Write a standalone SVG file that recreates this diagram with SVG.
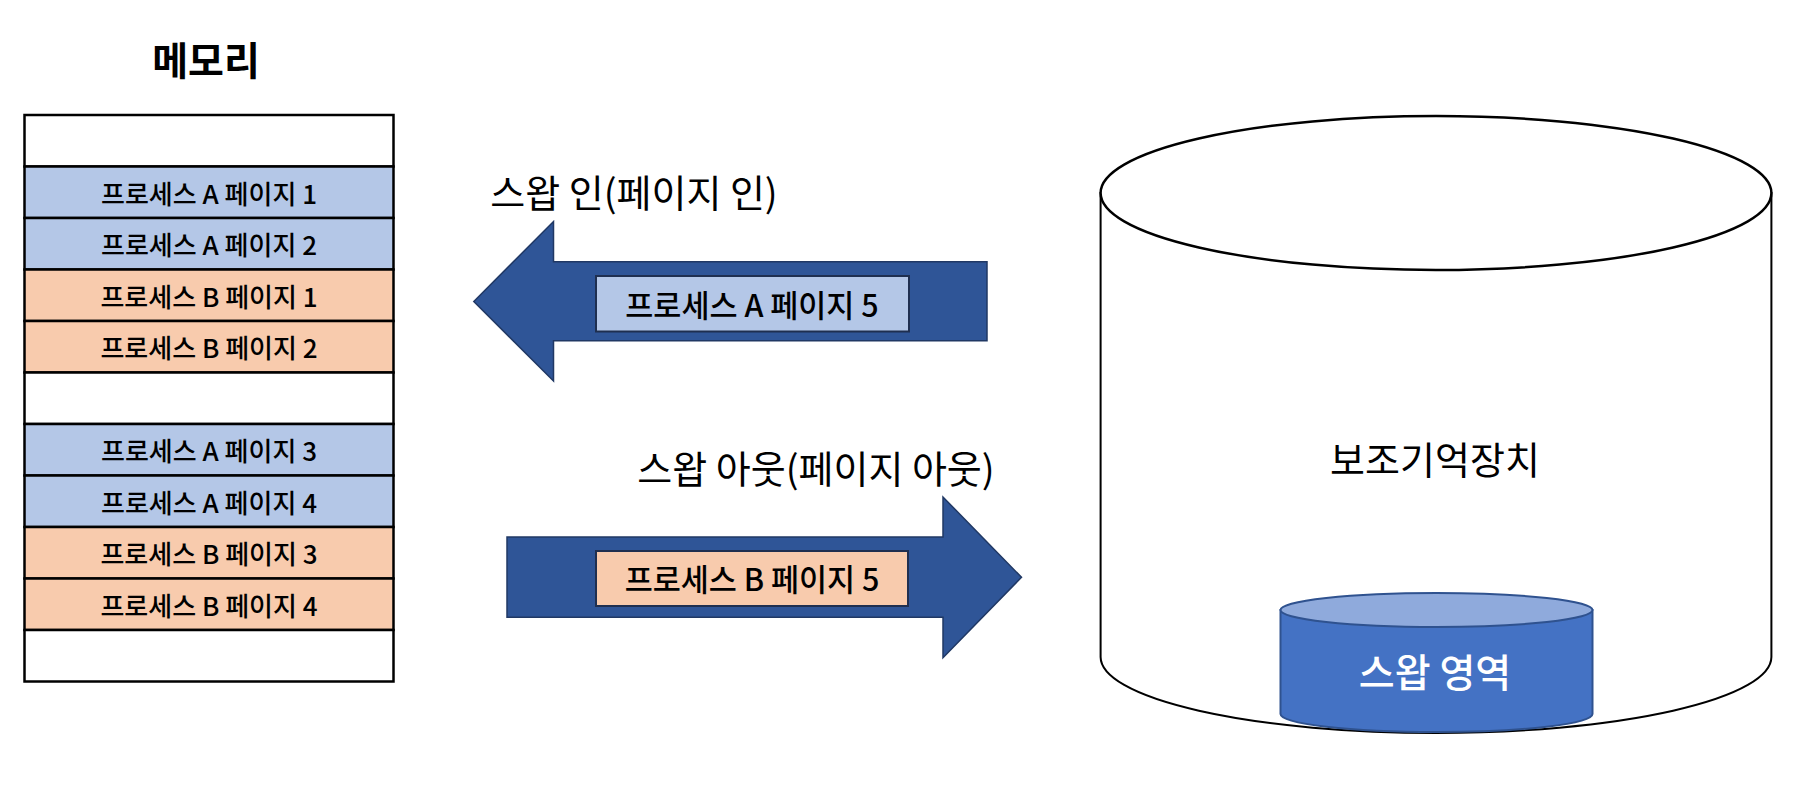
<svg xmlns="http://www.w3.org/2000/svg" width="1799" height="788" viewBox="0 0 1799 788">
<style>
text{font-family:"Noto Sans CJK KR","Noto Sans",sans-serif;text-anchor:middle;dominant-baseline:central;fill:#000;font-weight:500}
.row{stroke:#000;stroke-width:2.5}
.w{fill:#fff}
.a{fill:#B4C7E7}
.b{fill:#F8CBAD}
.rt{font-size:26px}
.title{font-size:38px;font-weight:400}
.arrow{fill:#2F5597;stroke:#203864;stroke-width:1.5}
.lbl{stroke:#1F2F50;stroke-width:2}
.lt{font-size:30.5px}
</style>
<rect width="1799" height="788" fill="#fff"/>
<g id="memory-title"><text x="206" y="58" style="font-size:39px;font-weight:bold">메모리</text></g>
<g id="memory">
<g id="mem-0"><rect class="row w" x="24.5" y="115" width="369" height="51.5"/></g>
<g id="mem-1"><rect class="row a" x="24.5" y="166.5" width="369" height="51.5"/><text class="rt" x="209" y="192">프로세스 A 페이지 1</text></g>
<g id="mem-2"><rect class="row a" x="24.5" y="218" width="369" height="51.5"/><text class="rt" x="209" y="243.5">프로세스 A 페이지 2</text></g>
<g id="mem-3"><rect class="row b" x="24.5" y="269.5" width="369" height="51.5"/><text class="rt" x="209" y="295">프로세스 B 페이지 1</text></g>
<g id="mem-4"><rect class="row b" x="24.5" y="321" width="369" height="51.5"/><text class="rt" x="209" y="346.5">프로세스 B 페이지 2</text></g>
<g id="mem-5"><rect class="row w" x="24.5" y="372.5" width="369" height="51.5"/></g>
<g id="mem-6"><rect class="row a" x="24.5" y="424" width="369" height="51.5"/><text class="rt" x="209" y="449.5">프로세스 A 페이지 3</text></g>
<g id="mem-7"><rect class="row a" x="24.5" y="475.5" width="369" height="51.5"/><text class="rt" x="209" y="501">프로세스 A 페이지 4</text></g>
<g id="mem-8"><rect class="row b" x="24.5" y="527" width="369" height="51.5"/><text class="rt" x="209" y="552.5">프로세스 B 페이지 3</text></g>
<g id="mem-9"><rect class="row b" x="24.5" y="578.5" width="369" height="51.5"/><text class="rt" x="209" y="604">프로세스 B 페이지 4</text></g>
<g id="mem-10"><rect class="row w" x="24.5" y="630" width="369" height="51.5"/></g>
</g>
<g id="connectors">
<path id="swap-in-arrow" class="arrow" d="M473.8,301.5 L553.5,221.5 L553.5,261.8 L987,261.8 L987,340.8 L553.5,340.8 L553.5,381 Z"/>
<path id="swap-out-arrow" class="arrow" d="M507,537 L943,537 L943,497 L1021.5,577.3 L943,657.7 L943,617.3 L507,617.3 Z"/>
</g>
<g id="swap-in-label"><text class="title" x="634" y="190">스왑 인(페이지 인)</text></g>
<g id="swap-out-label"><text class="title" x="816" y="466">스왑 아웃(페이지 아웃)</text></g>
<g id="page-a5"><rect class="lbl a" x="596" y="276" width="313" height="55.5"/><text class="lt" x="752" y="303.5">프로세스 A 페이지 5</text></g>
<g id="page-b5"><rect class="lbl b" x="596" y="551" width="312" height="55"/><text class="lt" x="752" y="578">프로세스 B 페이지 5</text></g>
<g id="storage">
<path d="M1100.6,193 V657 A335.4,76 0 0 0 1771.4,657 V193 Z" fill="#fff" stroke="#000" stroke-width="2"/>
<ellipse cx="1436" cy="193" rx="335.4" ry="77" fill="#fff" stroke="#000" stroke-width="2.5"/>
<text x="1435" y="457" style="font-size:38px;font-weight:400">보조기억장치</text>
</g>
<g id="swap-area">
<path d="M1280.5,610 V714 A156,18 0 0 0 1592.5,714 V610 Z" fill="#4472C4" stroke="#2F528F" stroke-width="2"/>
<ellipse cx="1436.5" cy="610" rx="156" ry="17" fill="#8FAADC" stroke="#2F528F" stroke-width="2"/>
<text x="1435" y="670" style="font-size:39px;fill:#fff">스왑 영역</text>
</g>
</svg>
